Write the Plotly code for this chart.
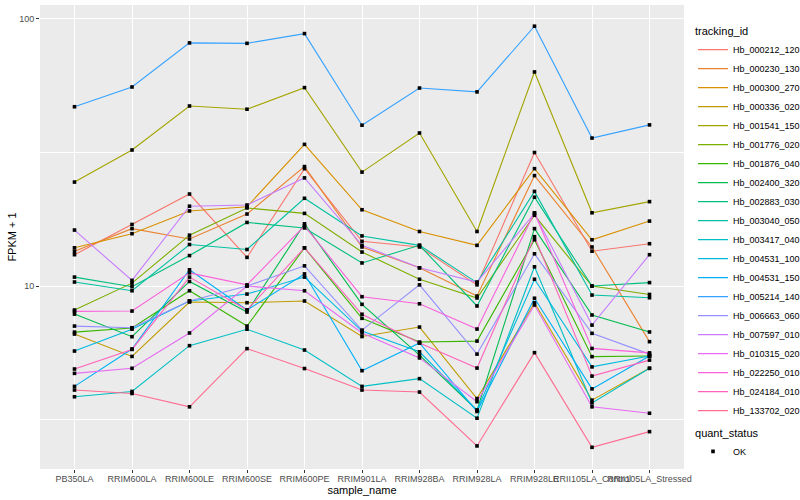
import plotly.graph_objects as go

samples = ["PB350LA", "RRIM600LA", "RRIM600LE", "RRIM600SE", "RRIM600PE", "RRIM901LA",
           "RRIM928BA", "RRIM928LA", "RRIM928LE", "RRII105LA_Control", "RRII105LA_Stressed"]

# FPKM + 1 values per tracking_id
Hb_000212_120 = [13.1, 17.0, 22.1, 12.8, 27.5, 14.7, 14.0, 10.1, 31.6, 13.5, 14.4]
Hb_000230_130 = [13.5, 16.4, 15.0, 18.6, 28.0, 14.0, 11.7, 9.17, 25.9, 14.0, 6.19]
Hb_000300_270 = [13.9, 15.7, 19.1, 19.8, 33.9, 19.3, 16.0, 14.2, 27.5, 14.9, 17.5]
Hb_000336_020 = [6.61, 5.45, 8.71, 8.66, 8.79, 6.47, 7.02, 3.79, 8.65, 3.74, 4.92]
Hb_001541_150 = [24.5, 32.3, 47.2, 45.9, 55.3, 26.7, 37.4, 16.0, 63.3, 18.8, 20.7]
Hb_001776_020 = [8.13, 10.25, 15.5, 19.6, 18.7, 13.4, 10.6, 9.02, 18.4, 10.0, 9.3]
Hb_001876_040 = [6.72, 6.96, 9.6, 7.08, 13.9, 7.57, 6.17, 6.22, 14.9, 5.44, 5.47]
Hb_002400_320 = [7.85, 6.46, 10.4, 7.99, 17.1, 8.54, 5.51, 3.43, 16.4, 7.79, 6.73]
Hb_002883_030 = [10.8, 9.94, 13.0, 17.3, 16.5, 12.2, 14.2, 8.42, 21.5, 10.0, 10.3]
Hb_003040_050 = [10.35, 9.6, 14.3, 13.7, 21.3, 15.4, 14.2, 10.3, 22.6, 9.25, 9.04]
Hb_003417_040 = [3.85, 4.03, 5.98, 6.89, 5.76, 4.21, 4.50, 3.20, 11.8, 3.65, 4.92]
Hb_004531_100 = [5.71, 6.89, 8.79, 9.33, 10.8, 6.78, 5.67, 3.43, 10.6, 4.98, 5.47]
Hb_004531_150 = [4.21, 5.81, 11.5, 8.13, 11.1, 4.82, 6.12, 3.39, 9.0, 4.12, 5.47]
Hb_005214_140 = [46.9, 55.6, 81.3, 81.0, 88.1, 40.0, 55.1, 53.3, 93.9, 35.8, 40.1]
Hb_006663_060 = [7.08, 6.98, 8.79, 10.0, 11.9, 6.84, 10.1, 5.56, 13.2, 6.65, 5.56]
Hb_007597_010 = [16.2, 10.5, 19.9, 20.1, 25.4, 14.2, 11.7, 10.35, 18.7, 7.14, 13.1]
Hb_010315_020 = [4.71, 4.92, 6.67, 10.0, 9.6, 6.67, 5.38, 3.69, 8.49, 3.53, 3.34]
Hb_022250_010 = [8.04, 8.06, 11.2, 10.1, 16.8, 9.12, 8.58, 6.90, 18.8, 5.84, 5.62]
Hb_024184_010 = [4.89, 5.79, 10.8, 8.13, 13.9, 7.84, 6.12, 4.93, 15.3, 4.60, 5.28]
Hb_133702_020 = [4.08, 3.96, 3.53, 5.83, 4.91, 4.08, 4.01, 2.52, 5.63, 2.49, 2.85]

tracking_ids = ["Hb_000212_120", "Hb_000230_130", "Hb_000300_270", "Hb_000336_020",
                "Hb_001541_150", "Hb_001776_020", "Hb_001876_040", "Hb_002400_320",
                "Hb_002883_030", "Hb_003040_050", "Hb_003417_040", "Hb_004531_100",
                "Hb_004531_150", "Hb_005214_140", "Hb_006663_060", "Hb_007597_010",
                "Hb_010315_020", "Hb_022250_010", "Hb_024184_010", "Hb_133702_020"]
series = [Hb_000212_120, Hb_000230_130, Hb_000300_270, Hb_000336_020, Hb_001541_150,
          Hb_001776_020, Hb_001876_040, Hb_002400_320, Hb_002883_030, Hb_003040_050,
          Hb_003417_040, Hb_004531_100, Hb_004531_150, Hb_005214_140, Hb_006663_060,
          Hb_007597_010, Hb_010315_020, Hb_022250_010, Hb_024184_010, Hb_133702_020]

colors = ["#F8766D", "#EA8331", "#D89000", "#C09B00", "#A3A500", "#7CAE00", "#39B600",
          "#00BB4E", "#00BF7D", "#00C1A3", "#00BFC4", "#00BAE0", "#00B0F6", "#35A2FF",
          "#9590FF", "#C77CFF", "#E76BF3", "#FA62DB", "#FF62BC", "#FF6C91"]

FONT = "Liberation Sans, Arial, sans-serif"

fig = go.Figure()
for name, vals, col in zip(tracking_ids, series, colors):
    fig.add_trace(go.Scatter(x=samples, y=vals, mode="lines", name=name,
                             line=dict(color=col, width=1.1), legend="legend"))

all_x = [s for vals in series for s in samples]
all_y = [v for vals in series for v in vals]
fig.add_trace(go.Scatter(x=all_x, y=all_y, mode="markers", name="OK",
                         marker=dict(symbol="square", size=3.6, color="black"),
                         legend="legend2"))

fig.update_layout(
    width=800, height=500,
    margin=dict(l=40, r=116, t=5, b=31, autoexpand=False),
    paper_bgcolor="white", plot_bgcolor="#EBEBEB",
    font=dict(family=FONT, size=9, color="#4D4D4D"),
    xaxis=dict(
        type="category", categoryorder="array", categoryarray=samples,
        range=[-0.6, 10.6], tickangle=0, showgrid=True, gridcolor="white",
        gridwidth=1.1, ticks="outside", ticklen=3, tickcolor="#333333",
        tickfont=dict(size=9, color="#4D4D4D"), zeroline=False, showline=False,
        automargin=False, ticklabelstandoff=-2,
        title=dict(text="sample_name", font=dict(size=11, color="black"), standoff=0),
    ),
    yaxis=dict(
        type="log", range=[0.315, 2.052], tickvals=[10, 100], ticktext=["10", "100"],
        showgrid=True, gridcolor="white", gridwidth=1.1, ticks="outside", ticklen=3,
        tickcolor="#333333", tickfont=dict(size=9, color="#4D4D4D"), zeroline=False,
        automargin=False,
        minor=dict(tickmode="array", tickvals=[3.1623, 31.623], showgrid=True,
                   gridcolor="white", gridwidth=0.5, ticks=""),
        title=dict(text="FPKM + 1", font=dict(size=11, color="black"), standoff=0),
    ),
    legend=dict(
        x=1.014, xanchor="left", y=0.966, yanchor="top",
        title=dict(text="tracking_id", font=dict(size=11, color="black")),
        font=dict(size=9, color="black"), bgcolor="rgba(0,0,0,0)",
        tracegroupgap=0, itemwidth=30,
    ),
    legend2=dict(
        x=1.014, xanchor="left", y=0.1, yanchor="top",
        title=dict(text="quant_status", font=dict(size=11, color="black")),
        font=dict(size=9, color="black"), bgcolor="rgba(0,0,0,0)",
    ),
)

fig.write_html("out.html", config={"displayModeBar": False},
               post_script="document.body.style.margin='0';document.body.style.overflow='hidden';")
